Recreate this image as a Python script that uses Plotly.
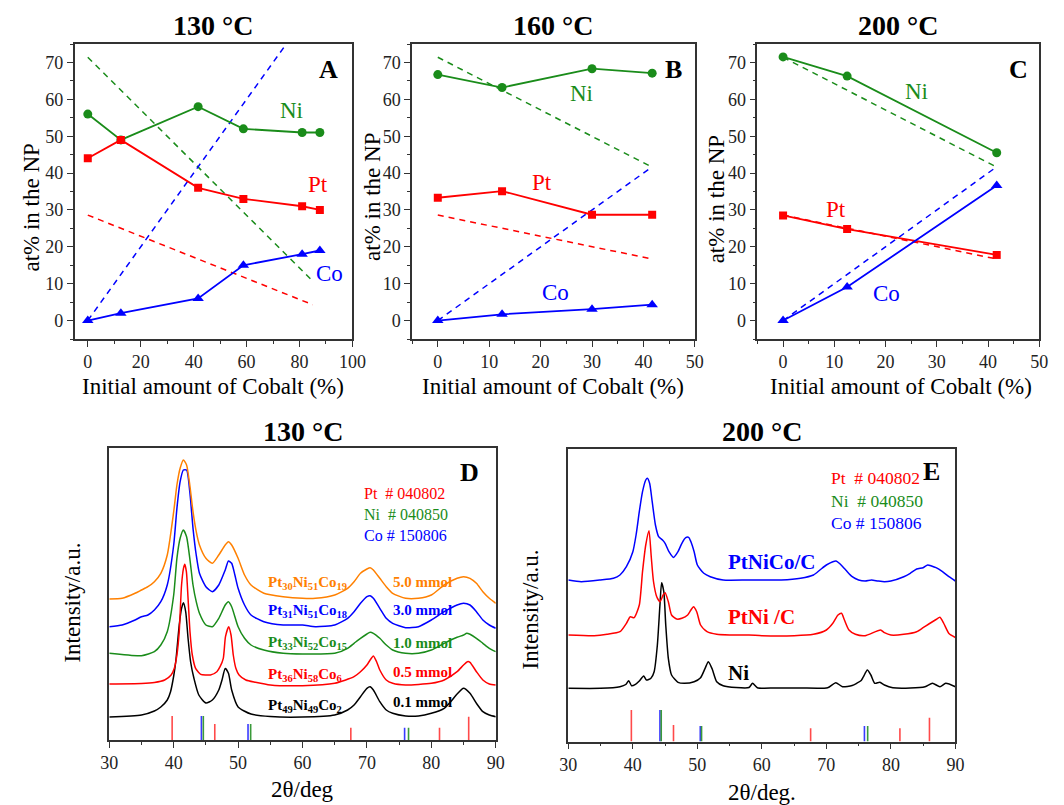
import plotly.graph_objects as go

W, H = 1064, 805
FONT = "'Liberation Serif', 'Times New Roman', Times, serif"
GREEN = "#1a8c1a"
RED = "#ff0000"
BLUE = "#0000ff"
ORANGE = "#ff8000"
BLACK = "#000000"

# ---------------- Panel A (130 °C) ----------------
a_co_init = [0, 12.5, 41.7, 58.8, 81.0, 87.7]
a_ni = [56, 49, 58, 52, 51, 51]
a_pt = [44, 49, 36, 33, 31, 30]
a_co = [0, 2, 6, 15, 18, 19]
a_nom_x = [0, 85]
a_nom_ni = [71.4, 10.7]
a_nom_pt = [28.6, 4.3]
a_nom_co = [0, 85]

# ---------------- Panel B (160 °C) ----------------
b_co_init = [0, 12.5, 30, 41.7]
b_ni = [66.7, 63.2, 68.3, 67.1]
b_pt = [33.3, 35.1, 28.7, 28.7]
b_co = [0, 1.7, 3.1, 4.3]
b_nom_x = [0, 41.7]
b_nom_ni = [71.4, 41.6]
b_nom_pt = [28.6, 16.7]
b_nom_co = [0, 41.7]

# ---------------- Panel C (200 °C) ----------------
c_co_init = [0, 12.5, 41.7]
c_ni = [71.5, 66.3, 45.5]
c_pt = [28.5, 24.8, 17.8]
c_co = [0, 9.1, 36.6]
c_nom_x = [0, 41.7]
c_nom_ni = [71.4, 41.6]
c_nom_pt = [28.6, 16.7]
c_nom_co = [0, 41.7]

# ---------------- Panel D XRD (130 °C) ----------------
d_black_x = [30, 35, 37, 38, 39, 39.5, 40, 40.35, 40.86, 41.22, 41.52, 41.87, 42.23, 42.63, 43.14, 43.9, 45, 46, 47, 47.5, 48,
             48.5, 49, 50, 52, 55, 60, 65, 67, 68, 69, 70, 70.5, 71, 72, 73, 74, 76, 78, 80, 82, 83, 84, 85, 86, 87, 88, 89, 90]
d_black_y = [23, 25, 29, 33, 40, 48, 64, 80, 115, 131.7, 137.3, 128, 101.7, 78, 61.7, 45, 37, 40, 50, 60, 71.5,
             66.7, 50, 33, 26, 23.5, 23, 25, 30, 35, 43.3, 51.7, 53.3, 50, 38.3, 30, 26.7, 24, 24, 26.7, 31.7, 38.3, 46, 51.7, 46.7, 36.7, 28.3, 25, 23.3]

d_red_x = [30, 35, 37, 38.6, 39.6, 40.1, 40.5, 40.86, 41.22, 41.52, 41.72, 41.97, 42.23, 42.53, 42.89, 43.4, 44.2, 45, 45.7, 46.7,
           47.2, 47.7, 48.04, 48.54, 48.9, 49.25, 49.65, 50.15, 51.2, 52.7, 55, 60, 65, 68, 69, 70, 70.5, 71, 71.5, 72, 73, 74,
           76, 80, 82, 84, 85, 85.6, 86, 87, 88, 89, 90]
d_red_y = [56, 56.5, 57.5, 60, 65, 71.7, 85, 108.3, 155, 171.7, 175.7, 168.3, 141.7, 108.3, 85, 71.7, 65.7, 65, 65, 68.3,
           73.3, 81.7, 103.3, 113.3, 105, 85, 71.7, 65, 60, 57.7, 55, 54.3, 56.7, 63.3, 68.3, 75, 80, 84, 78.3, 70, 60, 56.7,
           55, 56.7, 60, 68.3, 75, 78.3, 77.7, 68.3, 60, 56, 55]

d_green_x = [30, 35, 37, 38, 39, 40, 40.5, 41, 41.5, 42, 42.5, 43, 43.5, 44, 45, 46, 47, 48, 48.5, 49, 50, 51, 52, 54, 57, 60,
             65, 67, 68, 69, 70, 70.5, 71, 72, 73, 74, 76, 78, 80, 82, 84, 85, 85.5, 86, 87, 88, 89, 90]
d_green_y = [86.7, 84.3, 88.3, 95, 108.3, 145, 181.7, 201.7, 210, 203.3, 181.7, 155, 138.3, 126.7, 115, 113.3, 121.7, 135,
             138.3, 133.3, 113.3, 101.7, 95, 90, 86.7, 86, 86.7, 91.7, 96.7, 101.7, 106, 107.7, 106.7, 101.7, 95, 90, 86.7,
             86.7, 90, 96.7, 102.7, 105, 106.7, 105.7, 101.7, 96.7, 91.7, 88.3]

d_blue_x = [30, 32, 34, 35, 36, 37, 38, 39, 40, 40.5, 41, 41.5, 42, 42.5, 43, 43.5, 44, 45, 46, 47, 48, 48.5, 49, 49.5, 50, 51,
            52, 54, 57, 60, 62, 65, 67, 68, 69, 70, 70.5, 71, 72, 73, 74, 76, 78, 80, 82, 84, 85, 86, 87, 88, 89, 90]
d_blue_y = [113.3, 115, 120, 123.3, 125, 130, 138.3, 155, 195, 231.7, 258.3, 270, 270, 248.3, 211.7, 185, 166.7, 153.3, 148.3,
            155, 170, 179, 176.7, 165, 151.7, 135, 125, 118.3, 115, 115, 113.3, 115, 121.7, 128.3, 136.7, 143.3, 144.3, 141.7,
            131.7, 121.7, 116.7, 112.3, 113.3, 120, 128.3, 135, 136.7, 135, 128.3, 120, 115, 111.7]

d_orange_x = [30, 32, 34, 35, 36, 37, 38, 39, 40, 40.5, 41, 41.5, 42, 42.5, 43, 43.5, 44, 45, 46, 47, 48, 48.5, 49, 50, 51, 52,
              54, 57, 60, 62, 65, 67, 68, 69, 70, 70.5, 71, 72, 73, 74, 76, 78, 80, 82, 84, 85, 86, 87, 88, 89, 90]
d_orange_y = [141, 141.7, 146.7, 150, 153.3, 158.3, 166.7, 185, 228.3, 255, 271.7, 280, 275, 255, 228.3, 208.3, 195, 181.7,
              176.7, 185, 195, 198.3, 195, 181.7, 165, 155, 146.7, 143.3, 141.7, 141.7, 145, 151.7, 158.3, 166.7, 171, 172.3,
              170, 161.7, 153.3, 146.7, 141.7, 141.7, 145, 155, 161.7, 163.3, 161.7, 156.7, 148.3, 141.7, 136.7]

d_pt_ref_x = [39.76, 46.38, 67.5, 81.27, 85.8]
d_pt_ref_h = [24, 16, 12.3, 12.3, 23.3]
d_ni_ref_x = [44.6, 51.95, 76.46]
d_ni_ref_h = [24, 16, 12.3]
d_co_ref_x = [44.3, 51.54, 75.85]
d_co_ref_h = [24, 16, 12.3]

d_labels = ["Pt<sub>30</sub>Ni<sub>51</sub>Co<sub>19</sub>", "Pt<sub>31</sub>Ni<sub>51</sub>Co<sub>18</sub>",
            "Pt<sub>33</sub>Ni<sub>52</sub>Co<sub>15</sub>", "Pt<sub>36</sub>Ni<sub>58</sub>Co<sub>6</sub>",
            "Pt<sub>49</sub>Ni<sub>49</sub>Co<sub>2</sub>"]
d_amounts = ["5.0 mmol", "3.0 mmol", "1.0 mmol", "0.5 mmol", "0.1 mmol"]

# ---------------- Panel E XRD (200 °C) ----------------
e_black_x = [30, 35, 38, 38.9, 39.36, 39.8, 40.4, 41, 41.67, 42.1, 42.8, 43.3, 43.8, 44.2, 44.46, 44.8, 45.1, 45.5, 46, 47, 48,
             49.5, 50.5, 51.2, 51.7, 52.3, 53, 54, 56, 58, 58.56, 59.3, 62, 66, 70.2, 71.45, 72.5, 74.0, 74.7, 75.4, 75.75,
             76.35, 76.9, 77.5, 78.3, 79.0, 80.3, 83, 85.3, 86.45, 87.6, 88.5, 90]
e_black_y = [53.2, 53.2, 54.8, 57, 60.8, 55.8, 57.2, 60.5, 65.5, 61.5, 63.2, 69.8, 96.5, 136.5, 158.8, 149.8, 116.5, 83.2,
             66.5, 59.2, 58.2, 59.8, 63.8, 73.2, 79.8, 72.5, 59.8, 55.8, 54, 54, 58.2, 53.8, 53.5, 53.5, 53.8, 58.8, 54.8, 56,
             58.2, 61, 64.8, 71.5, 66.5, 58.2, 59.2, 56.5, 53.8, 53.5, 54.8, 58.2, 54.8, 58.2, 54.8]

e_red_x = [30, 34, 36, 38, 39, 39.6, 40.2, 41, 41.5, 42, 42.5, 42.85, 43.2, 43.7, 44.2, 44.7, 45, 45.5, 46, 46.8, 47.6, 48.5,
           49, 49.4, 49.9, 50.5, 51.5, 53, 55, 58, 60, 65, 68, 70, 71, 71.8, 72.35, 72.8, 73.5, 74.5, 76, 78.4, 79, 80, 82,
           84, 85, 86, 87, 87.6, 88.2, 89, 90]
e_red_y = [106.5, 105.8, 107.2, 109.8, 118.2, 124.8, 123.8, 136.5, 169.8, 196.5, 210.8, 185, 160, 144.8, 139.8, 146.5, 148.8,
           139.8, 126.5, 122.5, 123.2, 126.5, 131.5, 134.8, 129.8, 116.5, 109.8, 107.2, 106.5, 106.5, 105.8, 105.8, 107.2,
           111.5, 118.2, 126.5, 128.2, 121.5, 111.5, 107.2, 105.8, 111.5, 108.8, 106.5, 107.2, 109.8, 113.8, 118, 122, 124.2,
           118, 108, 104]

e_blue_x = [30, 32, 35, 37, 38, 39, 40, 40.5, 41, 41.5, 42, 42.25, 42.6, 43, 43.5, 44, 44.6, 45, 45.6, 46.3, 47, 47.6, 48.2,
            48.65, 49, 49.5, 50, 51, 52, 54, 58, 63, 66, 68, 69, 70, 71, 71.5, 72, 73, 74, 75, 76, 77, 78, 79, 80, 82, 83, 84,
            85, 85.7, 86.3, 87, 88, 89, 90]
e_blue_y = [161.5, 159.8, 161.5, 163.2, 166.5, 174.8, 189.8, 206.5, 229.8, 249.8, 261.5, 263.2, 258.2, 239.8, 216.5, 204.8,
            201.5, 198.2, 189.8, 184, 189.8, 198.2, 203.8, 204.2, 199.8, 189.8, 176.5, 168.2, 164.8, 161.5, 161.5, 161.5,
            163.2, 166.5, 171.5, 176.5, 179.8, 180.5, 178.2, 171.5, 164.8, 161.5, 160.5, 161.5, 160.5, 159.8, 160.5, 164.8,
            168.2, 172.5, 173.8, 176.5, 175.5, 173.8, 169.8, 164.8, 160.5]

e_pt_ref_x = [39.77, 46.3, 67.56, 81.4, 85.98]
e_pt_ref_h = [31.5, 16.5, 13.2, 13.2, 23.8]
e_ni_ref_x = [44.4, 50.65, 76.4]
e_ni_ref_h = [31.5, 15.5, 15.5]
e_co_ref_x = [44.2, 50.45, 75.9]
e_co_ref_h = [31.5, 15.5, 15.5]

e_labels = ["PtNiCo/C", "PtNi /C", "Ni"]
ref_labels = ["Pt\u00a0 # 040802", "Ni\u00a0 # 040850", "Co # 150806"]

# ---------------- geometry (page pixels -> paper) ----------------
def px_dom_x(a, b):
    return [a / W, b / W]

def px_dom_y(top, bottom):
    return [1 - bottom / H, 1 - top / H]

fig = go.Figure()

def comp_traces(xa, ya, x, ni, pt, co, nx, nni, npt, nco):
    dash = dict(width=1.5, dash="6px,5px")
    fig.add_trace(go.Scatter(x=nx, y=nni, mode="lines", line=dict(color=GREEN, **dash), xaxis=xa, yaxis=ya, showlegend=False))
    fig.add_trace(go.Scatter(x=nx, y=npt, mode="lines", line=dict(color=RED, **dash), xaxis=xa, yaxis=ya, showlegend=False))
    fig.add_trace(go.Scatter(x=nx, y=nco, mode="lines", line=dict(color=BLUE, **dash), xaxis=xa, yaxis=ya, showlegend=False))
    fig.add_trace(go.Scatter(x=x, y=ni, mode="lines+markers", line=dict(color=GREEN, width=1.8),
                             marker=dict(symbol="circle", size=9, color=GREEN), xaxis=xa, yaxis=ya, showlegend=False))
    fig.add_trace(go.Scatter(x=x, y=pt, mode="lines+markers", line=dict(color=RED, width=1.8),
                             marker=dict(symbol="square", size=8, color=RED), xaxis=xa, yaxis=ya, showlegend=False))
    fig.add_trace(go.Scatter(x=x, y=co, mode="lines+markers", line=dict(color=BLUE, width=1.8),
                             marker=dict(symbol="triangle-up", size=10, color=BLUE), xaxis=xa, yaxis=ya, showlegend=False))

comp_traces("x", "y", a_co_init, a_ni, a_pt, a_co, a_nom_x, a_nom_ni, a_nom_pt, a_nom_co)
comp_traces("x2", "y2", b_co_init, b_ni, b_pt, b_co, b_nom_x, b_nom_ni, b_nom_pt, b_nom_co)
comp_traces("x3", "y3", c_co_init, c_ni, c_pt, c_co, c_nom_x, c_nom_ni, c_nom_pt, c_nom_co)

def sticks(xa, ya, xs, hs, color):
    sx, sy = [], []
    for xv, hv in zip(xs, hs):
        sx += [xv, xv, None]
        sy += [0, hv, None]
    fig.add_trace(go.Scatter(x=sx, y=sy, mode="lines", line=dict(color=color, width=1.6),
                             xaxis=xa, yaxis=ya, showlegend=False, connectgaps=False))

def curve(xa, ya, xs, ys, color):
    fig.add_trace(go.Scatter(x=xs, y=ys, mode="lines", line=dict(color=color, width=1.5, shape="spline", smoothing=0.6),
                             xaxis=xa, yaxis=ya, showlegend=False))

curve("x4", "y4", d_black_x, d_black_y, BLACK)
curve("x4", "y4", d_red_x, d_red_y, RED)
curve("x4", "y4", d_green_x, d_green_y, GREEN)
curve("x4", "y4", d_blue_x, d_blue_y, BLUE)
curve("x4", "y4", d_orange_x, d_orange_y, ORANGE)
sticks("x4", "y4", d_pt_ref_x, d_pt_ref_h, "#ff4a4a")
sticks("x4", "y4", d_co_ref_x, d_co_ref_h, "#3a3aff")
sticks("x4", "y4", d_ni_ref_x, d_ni_ref_h, "#3a9a3a")

curve("x5", "y5", e_black_x, e_black_y, BLACK)
curve("x5", "y5", e_red_x, e_red_y, RED)
curve("x5", "y5", e_blue_x, e_blue_y, BLUE)
sticks("x5", "y5", e_pt_ref_x, e_pt_ref_h, "#ff4a4a")
sticks("x5", "y5", e_co_ref_x, e_co_ref_h, "#3a3aff")
sticks("x5", "y5", e_ni_ref_x, e_ni_ref_h, "#3a9a3a")

# ---------------- axes ----------------
def ax(**kw):
    d = dict(showline=True, linecolor="#333333", linewidth=1.5, mirror=True, ticks="outside", ticklen=6,
             tickwidth=1.2, tickcolor="#333333", showgrid=False, zeroline=False,
             tickfont=dict(family=FONT, size=18, color="#222222"))
    d.update(kw)
    return d

minor5 = dict(ticks="outside", ticklen=3, tickwidth=1.2, tickcolor="#333333")

fig.update_layout(
    width=W, height=H, margin=dict(l=0, r=0, t=0, b=0),
    paper_bgcolor="white", plot_bgcolor="white", showlegend=False,
    font=dict(family=FONT, color="#222222"),
    xaxis=ax(domain=px_dom_x(67, 351), range=[-5, 100], tick0=0, dtick=20, anchor="y",
             minor=dict(dtick=10, tick0=0, **minor5)),
    yaxis=ax(domain=px_dom_y(44, 339), range=[-5, 75], tick0=0, dtick=10, anchor="x",
             minor=dict(dtick=5, tick0=0, **minor5)),
    xaxis2=ax(domain=px_dom_x(412, 701), range=[-5, 50], tick0=0, dtick=10, anchor="y2",
              minor=dict(dtick=5, tick0=0, **minor5)),
    yaxis2=ax(domain=px_dom_y(44, 339), range=[-5, 75], tick0=0, dtick=10, anchor="x2",
              minor=dict(dtick=5, tick0=0, **minor5)),
    xaxis3=ax(domain=px_dom_x(765, 1053), range=[-5, 50], tick0=0, dtick=10, anchor="y3",
              minor=dict(dtick=5, tick0=0, **minor5)),
    yaxis3=ax(domain=px_dom_y(44, 339), range=[-5, 75], tick0=0, dtick=10, anchor="x3",
              minor=dict(dtick=5, tick0=0, **minor5)),
    xaxis4=ax(domain=px_dom_x(102.5, 497.5), range=[30, 90], tick0=30, dtick=10, anchor="y4",
              minor=dict(dtick=5, tick0=30, **minor5)),
    yaxis4=ax(domain=px_dom_y(447.7, 740), range=[0, 292.3], anchor="x4", ticks="", showticklabels=False),
    xaxis5=ax(domain=px_dom_x(571.7, 967.3), range=[30, 90], tick0=30, dtick=10, anchor="y5",
              minor=dict(dtick=5, tick0=30, **minor5)),
    yaxis5=ax(domain=px_dom_y(448.5, 741.5), range=[0, 293], anchor="x5", ticks="", showticklabels=False),
)

ann = []

def txt(text, x, y, xref, yref, size, color=BLACK, bold=False, xanchor="center", yanchor="middle", angle=0):
    t = "<b>" + text + "</b>" if bold else text
    ann.append(dict(text=t, x=x, y=y, xref=xref, yref=yref, showarrow=False, xanchor=xanchor, yanchor=yanchor,
                    textangle=angle, font=dict(family=FONT, size=size, color=color)))

def P(xpx, ypx, text, size, **kw):
    txt(text, xpx / W, 1 - ypx / H, "paper", "paper", size, **kw)

# titles
P(209, 26, "130 °C", 28, bold=True)
P(556.5, 26, "160 °C", 28, bold=True)
P(909, 26, "200 °C", 28, bold=True)
P(300, 432, "130 °C", 28, bold=True)
P(769.5, 432, "200 °C", 28, bold=True)

# axis titles
for xc in (209, 556.5, 912):
    P(xc, 387, "Initial amount of Cobalt (%)", 23)
P(22, 208, "at% in the NP", 23, angle=-90)
P(372, 197, "at% in the NP", 23, angle=-90)
P(723, 199, "at% in the NP", 23, angle=-90)
P(64, 603, "Intensity/a.u.", 23, angle=-90)
P(532, 610, "Intensity/a.u.", 23, angle=-90)
P(300, 789, "2θ/deg", 23)
P(769.5, 792, "2θ/deg.", 23)

# panel A-C in-plot labels
txt("Ni", 77, 57, "x", "y", 23, GREEN)
txt("Pt", 87.1, 36.9, "x", "y", 23, RED)
txt("Co", 91.2, 12.7, "x", "y", 23, BLUE)
txt("A", 90.8, 68.2, "x", "y", 26, BLACK, bold=True)

txt("Ni", 27.9, 61.6, "x2", "y2", 23, GREEN)
txt("Pt", 20.2, 37.5, "x2", "y2", 23, RED)
txt("Co", 22.9, 7.5, "x2", "y2", 23, BLUE)
txt("B", 45.8, 68.2, "x2", "y2", 26, BLACK, bold=True)

txt("Ni", 26, 62, "x3", "y3", 23, GREEN)
txt("Pt", 10.4, 30.2, "x3", "y3", 23, RED)
txt("Co", 20.2, 7.3, "x3", "y3", 23, BLUE)
txt("C", 45.9, 68.2, "x3", "y3", 26, BLACK, bold=True)

# panel D texts
txt("D", 85.9, 268, "x4", "y4", 26, BLACK, bold=True)
for lab, yv, col in zip(ref_labels, [246.7, 225.7, 204.3], [RED, GREEN, BLUE]):
    txt(lab, 69.2, yv, "x4", "y4", 16, col, xanchor="left")
d_label_y = [160, 131.7, 100, 68.3, 36.7]
d_amount_y = [158.3, 130, 96.7, 68.3, 38.3]
d_cols = [ORANGE, BLUE, GREEN, RED, BLACK]
for lab, am, yl, ya, col in zip(d_labels, d_amounts, d_label_y, d_amount_y, d_cols):
    txt(lab, 54.3, yl - 3, "x4", "y4", 15, col, bold=True, xanchor="left")
    txt(am, 73.8, ya, "x4", "y4", 15, col, bold=True, xanchor="left")

# panel E texts
txt("E", 86.3, 269.8, "x5", "y5", 26, BLACK, bold=True)
for lab, yv, col in zip(ref_labels, [263.2, 240.5, 218.2], [RED, GREEN, BLUE]):
    txt(lab, 70.4, yv, "x5", "y5", 17.5, col, xanchor="left")
for lab, yv, col in zip(e_labels, [179.8, 124.8, 68.2], [BLUE, RED, BLACK]):
    txt(lab, 54.4, yv, "x5", "y5", 21, col, bold=True, xanchor="left")

fig.update_layout(annotations=ann)
fig.write_html("out.html", config={"displayModeBar": False},
               post_script="document.body.style.margin='0';document.body.style.overflow='hidden';")
